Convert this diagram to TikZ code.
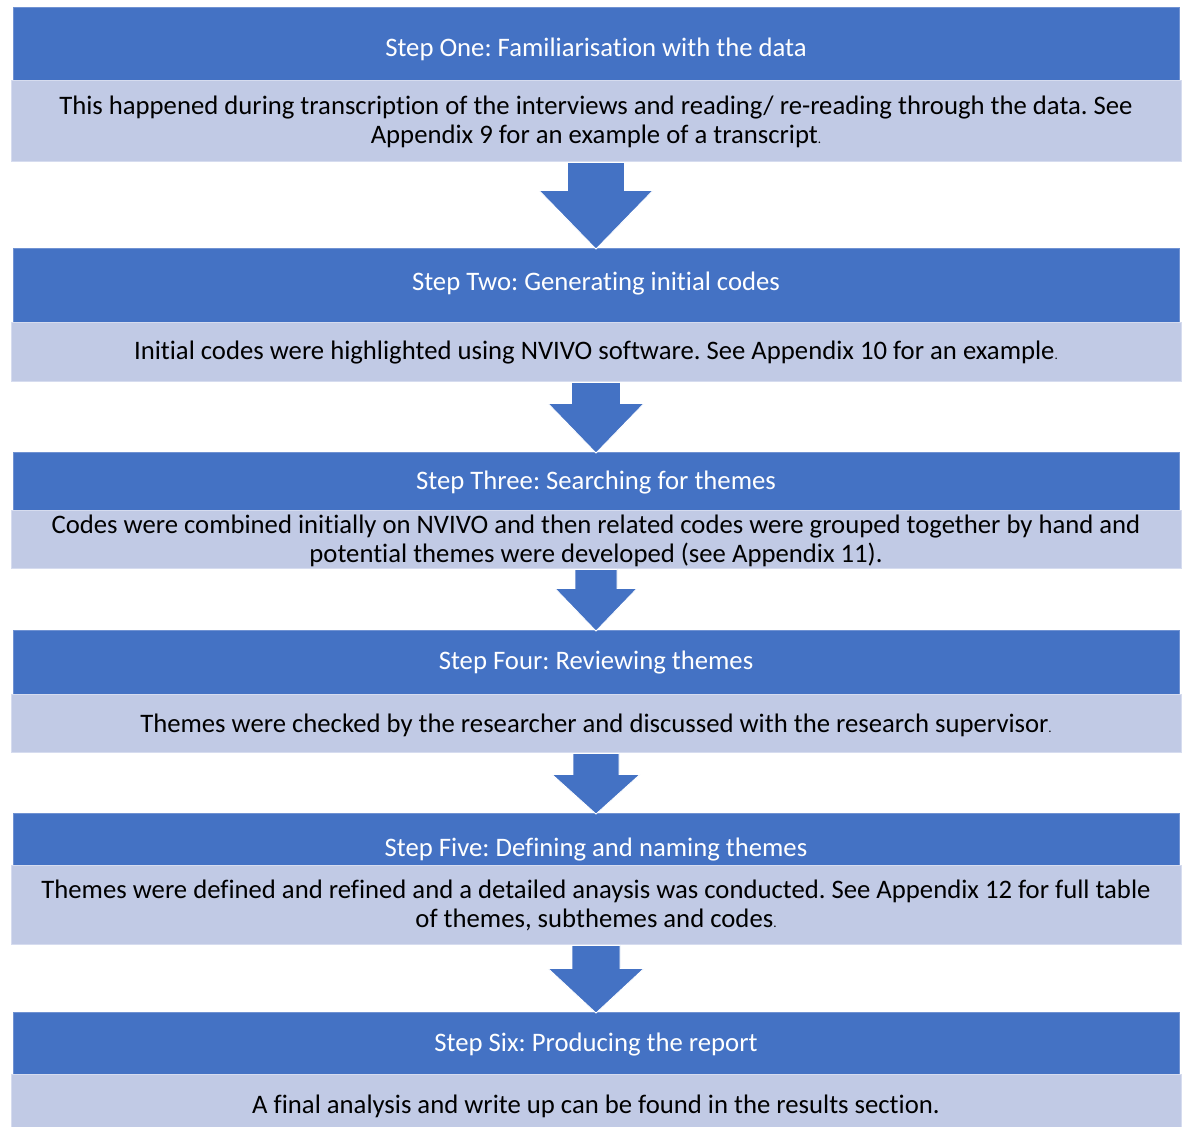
\documentclass[tikz,border=0pt]{standalone}
\usepackage{fontspec}
\setmainfont[Ligatures=NoCommon]{Carlito}
\usetikzlibrary{calc}
\frenchspacing
\definecolor{hdrblue}{HTML}{4472C4}
\definecolor{hdredge}{RGB}{112,146,210}
\definecolor{bodyblue}{RGB}{193,202,229}
\definecolor{bodyedge}{RGB}{214,220,239}
% block arrow: from body node #1 to header node #2,
% shaft half width #3, head half width #4, shaft length #5
\newcommand{\stepArrow}[5]{%
  \draw[flowarrow]
    ($(#1.south -| #2.north)+(-#3,0)$) -- ++(0,#5) -- ++({#3-#4},0)
    -- ($(#2.north)+(0,1)$)
    -- ($(#1.south -| #2.north)+(#4,#5)$) -- ++({#3-#4},0)
    -- ($(#1.south -| #2.north)+(#3,0)$) -- cycle;}
\newcommand{\smalldot}{{\fontsize{13}{13}\selectfont .}}
\begin{document}
\begin{tikzpicture}[x=1pt,y=-1pt,
  hdrbox/.style={rectangle, fill=hdrblue, draw=hdredge, line width=0.6pt,
    inner sep=0pt, minimum width=1166pt, anchor=north},
  bodybox/.style={rectangle, fill=bodyblue, draw=bodyedge, line width=1.4pt,
    inner sep=0pt, minimum width=1170pt, anchor=north},
  hdrtext/.style={text=white, font=\fontsize{26.7}{29}\selectfont, inner sep=0pt},
  bodytext/.style={text=black, font=\fontsize{26.7}{29}\selectfont, align=center, inner sep=0pt},
  flowarrow/.style={fill=hdrblue, draw=white, line width=0.8pt}
]
\useasboundingbox[fill=white] (0,0) rectangle (1186,1127);

% step boxes
\node[hdrbox, minimum height=73pt] (h1) at (596,7) {};
\node[bodybox, minimum height=81pt] (b1) at (596.5,80) {};
\node[hdrbox, minimum height=74pt] (h2) at (596,248) {};
\node[bodybox, minimum height=59pt] (b2) at (596.5,322) {};
\node[hdrbox, minimum height=58pt] (h3) at (596,452) {};
\node[bodybox, minimum height=58pt] (b3) at (596.5,510) {};
\node[hdrbox, minimum height=64pt] (h4) at (596,630) {};
\node[bodybox, minimum height=58pt] (b4) at (596.5,694) {};
\node[hdrbox, minimum height=52pt] (h5) at (596,813) {};
\node[bodybox, minimum height=79pt] (b5) at (596.5,865) {};
\node[hdrbox, minimum height=62pt] (h6) at (596,1012) {};
\node[bodybox, minimum height=56pt] (b6) at (596.5,1074) {};

% arrows between the steps
\stepArrow{b1}{h2}{28.5}{57}{28}
\stepArrow{b2}{h3}{24.5}{48}{21}
\stepArrow{b3}{h4}{21}{41}{19}
\stepArrow{b4}{h5}{23}{44}{21}
\stepArrow{b5}{h6}{24}{48}{23}

% headings
\node[hdrtext] (t1) at (596,49) {Step One: Familiarisation with the data};
\node[hdrtext] (t2) at (596,284) {Step Two: Generating initial codes};
\node[hdrtext] (t3) at (596,483) {Step Three: Searching for themes};
\node[hdrtext] (t4) at (596,663) {Step Four: Reviewing themes};
\node[hdrtext] (t5) at (596,850) {Step Five: Defining and naming themes};
\node[hdrtext] (t6) at (596,1045) {Step Six: Producing the report};

% descriptions
\node[bodytext] (d1) at (596,121.5) {This happened during transcription of the interviews and reading/ re-reading through the data. See\\Appendix 9 for an example of a transcript\smalldot};
\node[bodytext] (d2) at (596,353) {Initial codes were highlighted using NVIVO software. See Appendix 10 for an example\smalldot};
\node[bodytext] (d3) at (596,540.5) {Codes were combined initially on NVIVO and then related codes were grouped together by hand and\\potential themes were developed (see Appendix 11).};
\node[bodytext] (d4) at (596,725) {Themes were checked by the researcher and discussed with the research supervisor\smalldot};
\node[bodytext] (d5) at (596,905.5) {Themes were defined and refined and a detailed anaysis was conducted. See Appendix 12 for full table\\of themes, subthemes and codes\smalldot};
\node[bodytext] (d6) at (596,1106) {A final analysis and write up can be found in the results section.};
\end{tikzpicture}
\end{document}
